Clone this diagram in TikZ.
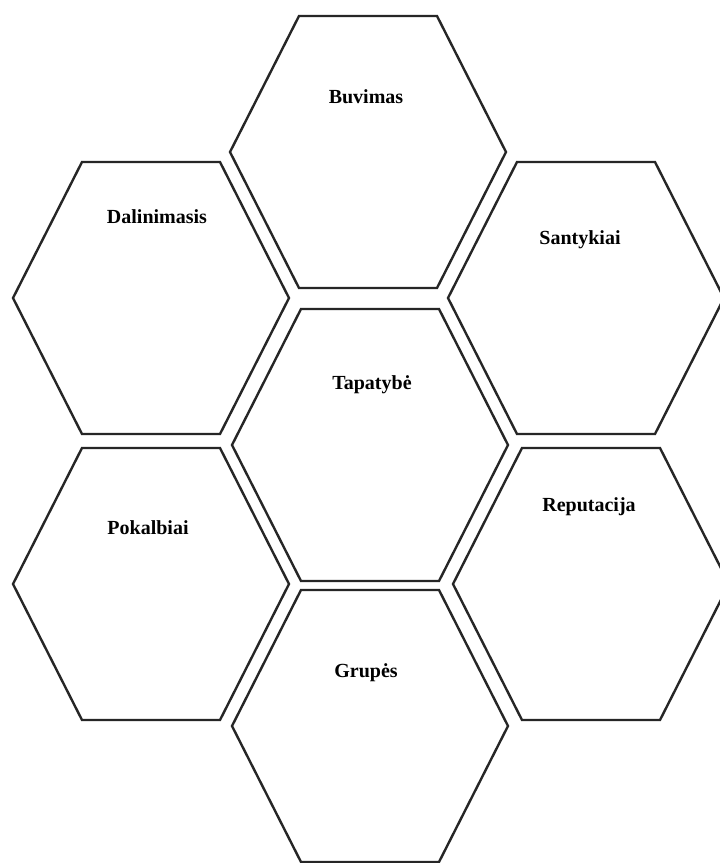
\documentclass[tikz,border=0pt]{standalone}
\usepackage{fontspec}
\setmainfont{Liberation Serif}
\usepackage{tikz}
\usetikzlibrary{positioning, calc}

\begin{document}
\begin{tikzpicture}[
    x=1pt, y=-1pt,
    cell/.style={draw=black!85, line width=2.4pt, line join=miter},
    caption/.style={font=\bfseries\fontsize{20}{24}\selectfont, inner sep=0pt},
]

% Page frame
\clip (0,0) rectangle (720,863);
\fill[white] (0,0) rectangle (720,863);

% Hexagon centres
\coordinate (buv) at (368,152);
\coordinate (dal) at (151,298);
\coordinate (san) at (586,298);
\coordinate (tap) at (370,445);
\coordinate (pok) at (151,584);
\coordinate (rep) at (591,584);
\coordinate (gru) at (370,726);

% Hexagon outlines
\foreach \c in {buv,dal,san,tap,pok,rep,gru}
  \draw[cell] (\c) ++(-69,-136) -- ++(138,0) -- ++(69,136) -- ++(-69,136)
    -- ++(-138,0) -- ++(-69,-136) -- cycle;

% Labels
\node[caption] (buvimas) at (366,97) {Buvimas};
\node[caption] (dalinimasis) at (157,217) {Dalinimasis};
\node[caption] (santykiai) at (580,240) {Santykiai};
\node[caption] (tapatybe) at (372,385) {Tapatybė};
\node[caption] (pokalbiai) at (148,528) {Pokalbiai};
\node[caption] (reputacija) at (589,507) {Reputacija};
\node[caption] (grupes) at (366,673) {Grupės};

\end{tikzpicture}
\end{document}
